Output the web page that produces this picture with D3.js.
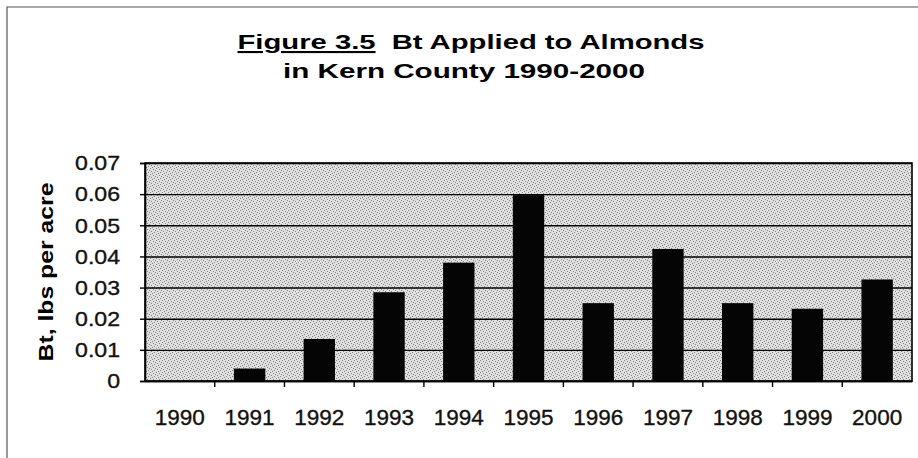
<!DOCTYPE html>
<html>
<head>
<meta charset="utf-8">
<script src="https://cdn.jsdelivr.net/npm/d3@7"></script>
<style>
  body { margin: 0; background: #fff; }
  svg { display: block; font-family: "Liberation Sans", Arial, sans-serif; }
</style>
</head>
<body>
<div class="container"></div>
<script>
// DATA
const years = ["1990", "1991", "1992", "1993", "1994", "1995", "1996", "1997", "1998", "1999", "2000"];
const btPerAcre = [0, 0.004, 0.0135, 0.0285, 0.038, 0.0597, 0.025, 0.0424, 0.025, 0.0232, 0.0326];
const yTicks = [0, 0.01, 0.02, 0.03, 0.04, 0.05, 0.06, 0.07];
const yTickLabels = ["0", "0.01", "0.02", "0.03", "0.04", "0.05", "0.06", "0.07"];

// SETUP
const width = 918;
const height = 458;
const margin = { top: 163, right: 6, bottom: 77, left: 145 };

const svg = d3.select(".container")
    .append("svg")
    .attr("width", width)
    .attr("height", height);

// stippled grey fill of the plot area
const pat = svg.append("defs").append("pattern")
    .attr("id", "stipple")
    .attr("patternUnits", "userSpaceOnUse")
    .attr("width", 6)
    .attr("height", 6);
pat.append("rect").attr("width", 6).attr("height", 6).attr("fill", "#e0e0e0");
[[0, 0], [3, 1], [1, 3], [4, 4], [5, 2], [2, 5]].forEach(p => {
  pat.append("rect").attr("x", p[0]).attr("y", p[1]).attr("width", 1).attr("height", 1).attr("fill", "#808080");
});

// frame of the scanned page
svg.append("path")
    .attr("d", `M7,${height} V7 H${width}`)
    .attr("fill", "none")
    .attr("stroke", "#555")
    .attr("stroke-width", 1.2);

const xScale = d3.scaleBand()
    .domain(years)
    .range([margin.left, width - margin.right])
    .paddingInner(0.55)
    .paddingOuter(0.275);

const yScale = d3.scaleLinear()
    .domain([0, 0.07])
    .range([height - margin.bottom, margin.top]);

// TITLE
const title = svg.append("text")
    .attr("x", 471)
    .attr("y", 49)
    .attr("text-anchor", "middle")
    .attr("font-weight", "bold")
    .attr("font-size", 21)
    .attr("xml:space", "preserve")
    .attr("textLength", 467)
    .attr("lengthAdjust", "spacingAndGlyphs");
title.append("tspan").attr("text-decoration", "underline").text("Figure 3.5");
title.append("tspan").text("  Bt Applied to Almonds");

svg.append("text")
    .attr("x", 464)
    .attr("y", 78)
    .attr("text-anchor", "middle")
    .attr("font-weight", "bold")
    .attr("font-size", 21)
    .attr("textLength", 362)
    .attr("lengthAdjust", "spacingAndGlyphs")
    .text("in Kern County 1990-2000");

// plot area
svg.append("rect")
    .attr("x", margin.left)
    .attr("y", margin.top)
    .attr("width", width - margin.right - margin.left)
    .attr("height", yScale(0) - margin.top)
    .attr("fill", "url(#stipple)");

// gridlines
svg.append("g")
    .attr("transform", `translate(${margin.left},0)`)
    .call(d3.axisLeft(yScale).tickValues(yTicks).tickSize(-(width - margin.right - margin.left)).tickFormat(""))
    .call(g => g.select(".domain").remove())
    .call(g => g.selectAll("line").attr("stroke", "#000").attr("stroke-width", 1.4));

// bars
svg.append("g")
    .selectAll("rect")
    .data(years)
    .enter()
    .append("rect")
    .attr("x", d => xScale(d))
    .attr("width", xScale.bandwidth())
    .attr("y", (d, i) => yScale(btPerAcre[i]))
    .attr("height", (d, i) => yScale(0) - yScale(btPerAcre[i]))
    .attr("fill", "#050505");

// border of the plot area
svg.append("rect")
    .attr("x", margin.left)
    .attr("y", margin.top)
    .attr("width", width - margin.right - margin.left)
    .attr("height", yScale(0) - margin.top)
    .attr("fill", "none")
    .attr("stroke", "#000")
    .attr("stroke-width", 1.6);

// Y AXIS
const yAxis = svg.append("g")
    .attr("transform", `translate(${margin.left},0)`)
    .call(d3.axisLeft(yScale)
        .tickValues(yTicks)
        .tickSize(5)
        .tickPadding(20)
        .tickFormat((d, i) => yTickLabels[i]));
yAxis.select(".domain").attr("stroke", "#000").attr("stroke-width", 1.6);
yAxis.selectAll(".tick line").attr("stroke", "#000").attr("stroke-width", 1.4);
yAxis.selectAll("text")
    .attr("font-size", 21)
    .attr("font-family", "Liberation Sans, Arial, sans-serif")
    .attr("fill", "#111")
    .attr("stroke", "#111")
    .attr("stroke-width", 0.35)
    .each(function() {
      const w = this.getComputedTextLength();
      d3.select(this).attr("textLength", w * 1.1).attr("lengthAdjust", "spacingAndGlyphs");
    });

// X AXIS - labels under bars, ticks on category boundaries
const xAxis = svg.append("g")
    .attr("transform", `translate(0,${yScale(0)})`)
    .call(d3.axisBottom(xScale).tickSize(0).tickPadding(28).tickSizeOuter(0));
xAxis.select(".domain").attr("stroke", "#000").attr("stroke-width", 1.6);
xAxis.selectAll("text")
    .attr("font-size", 22.5)
    .attr("font-family", "Liberation Sans, Arial, sans-serif")
    .attr("fill", "#111")
    .attr("stroke", "#111")
    .attr("stroke-width", 0.35);

const step = xScale.step();
xAxis.selectAll(".bound")
    .data(years.slice(0, -1))
    .enter()
    .append("line")
    .attr("class", "bound")
    .attr("x1", d => xScale(d) + xScale.bandwidth() / 2 + step / 2)
    .attr("x2", d => xScale(d) + xScale.bandwidth() / 2 + step / 2)
    .attr("y1", 0)
    .attr("y2", 6)
    .attr("stroke", "#000")
    .attr("stroke-width", 1.4);

// Y AXIS TITLE
svg.append("text")
    .attr("transform", "translate(53,272) rotate(-90)")
    .attr("text-anchor", "middle")
    .attr("font-weight", "bold")
    .attr("font-size", 20)
    .attr("textLength", 179)
    .attr("lengthAdjust", "spacingAndGlyphs")
    .text("Bt, lbs per acre");
</script>
</body>
</html>
